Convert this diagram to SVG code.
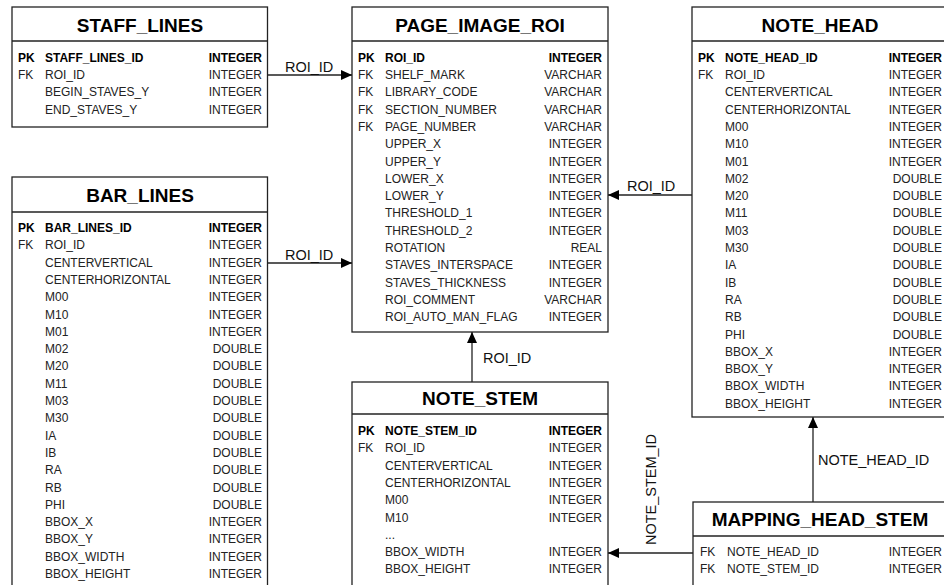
<svg xmlns="http://www.w3.org/2000/svg" width="944" height="585" viewBox="0 0 944 585">
<style>
.box{fill:#fff;stroke:#222;stroke-width:1.3}
.hd{font-family:"Liberation Sans",Arial,sans-serif;font-size:19px;font-weight:bold;fill:#000;text-anchor:middle}
.t{font-family:"Liberation Sans",Arial,sans-serif;font-size:12px;fill:#222}
.b{font-weight:bold;fill:#000}
.r{text-anchor:end}
.lbl{font-family:"Liberation Sans",Arial,sans-serif;font-size:14.5px;fill:#111}
.cn{stroke:#222;stroke-width:1.3;fill:none;marker-end:url(#ah)}
</style>
<defs>
<marker id="ah" markerUnits="userSpaceOnUse" markerWidth="11" markerHeight="10" refX="11" refY="5" orient="auto">
<path d="M0,0 L11,5 L0,10 z" fill="#000"/>
</marker>
</defs>
<rect width="944" height="585" fill="#fff"/>

<g id="staff_lines">
<rect class="box" x="12" y="7" width="255.5" height="120"/>
<line class="box" x1="12" y1="41" x2="267.5" y2="41"/>
<text class="hd" x="140" y="31.5">STAFF_LINES</text>
<text class="t b" x="18" y="61.7">PK</text><text class="t b" x="45" y="61.7">STAFF_LINES_ID</text><text class="t b r" x="262" y="61.7">INTEGER</text>
<text class="t" x="18" y="79">FK</text><text class="t" x="45" y="79">ROI_ID</text><text class="t r" x="262" y="79">INTEGER</text>
<text class="t" x="45" y="96.3">BEGIN_STAVES_Y</text><text class="t r" x="262" y="96.3">INTEGER</text>
<text class="t" x="45" y="113.6">END_STAVES_Y</text><text class="t r" x="262" y="113.6">INTEGER</text>
</g>

<g id="page_image_roi">
<rect class="box" x="352" y="7" width="256" height="325"/>
<line class="box" x1="352" y1="41" x2="608" y2="41"/>
<text class="hd" x="480" y="31.5">PAGE_IMAGE_ROI</text>
<text class="t b" x="358" y="61.7">PK</text><text class="t b" x="385" y="61.7">ROI_ID</text><text class="t b r" x="602" y="61.7">INTEGER</text>
<text class="t" x="358" y="79">FK</text><text class="t" x="385" y="79">SHELF_MARK</text><text class="t r" x="602" y="79">VARCHAR</text>
<text class="t" x="358" y="96.3">FK</text><text class="t" x="385" y="96.3">LIBRARY_CODE</text><text class="t r" x="602" y="96.3">VARCHAR</text>
<text class="t" x="358" y="113.6">FK</text><text class="t" x="385" y="113.6">SECTION_NUMBER</text><text class="t r" x="602" y="113.6">VARCHAR</text>
<text class="t" x="358" y="130.9">FK</text><text class="t" x="385" y="130.9">PAGE_NUMBER</text><text class="t r" x="602" y="130.9">VARCHAR</text>
<text class="t" x="385" y="148.2">UPPER_X</text><text class="t r" x="602" y="148.2">INTEGER</text>
<text class="t" x="385" y="165.5">UPPER_Y</text><text class="t r" x="602" y="165.5">INTEGER</text>
<text class="t" x="385" y="182.8">LOWER_X</text><text class="t r" x="602" y="182.8">INTEGER</text>
<text class="t" x="385" y="200.1">LOWER_Y</text><text class="t r" x="602" y="200.1">INTEGER</text>
<text class="t" x="385" y="217.4">THRESHOLD_1</text><text class="t r" x="602" y="217.4">INTEGER</text>
<text class="t" x="385" y="234.7">THRESHOLD_2</text><text class="t r" x="602" y="234.7">INTEGER</text>
<text class="t" x="385" y="252">ROTATION</text><text class="t r" x="602" y="252">REAL</text>
<text class="t" x="385" y="269.3">STAVES_INTERSPACE</text><text class="t r" x="602" y="269.3">INTEGER</text>
<text class="t" x="385" y="286.6">STAVES_THICKNESS</text><text class="t r" x="602" y="286.6">INTEGER</text>
<text class="t" x="385" y="303.9">ROI_COMMENT</text><text class="t r" x="602" y="303.9">VARCHAR</text>
<text class="t" x="385" y="321.2">ROI_AUTO_MAN_FLAG</text><text class="t r" x="602" y="321.2">INTEGER</text>
</g>

<g id="note_head">
<rect class="box" x="692" y="7" width="260" height="410"/>
<line class="box" x1="692" y1="41" x2="952" y2="41"/>
<text class="hd" x="820" y="31.5">NOTE_HEAD</text>
<text class="t b" x="698" y="61.7">PK</text><text class="t b" x="725" y="61.7">NOTE_HEAD_ID</text><text class="t b r" x="942" y="61.7">INTEGER</text>
<text class="t" x="698" y="79">FK</text><text class="t" x="725" y="79">ROI_ID</text><text class="t r" x="942" y="79">INTEGER</text>
<text class="t" x="725" y="96.3">CENTERVERTICAL</text><text class="t r" x="942" y="96.3">INTEGER</text>
<text class="t" x="725" y="113.6">CENTERHORIZONTAL</text><text class="t r" x="942" y="113.6">INTEGER</text>
<text class="t" x="725" y="130.9">M00</text><text class="t r" x="942" y="130.9">INTEGER</text>
<text class="t" x="725" y="148.2">M10</text><text class="t r" x="942" y="148.2">INTEGER</text>
<text class="t" x="725" y="165.5">M01</text><text class="t r" x="942" y="165.5">INTEGER</text>
<text class="t" x="725" y="182.8">M02</text><text class="t r" x="942" y="182.8">DOUBLE</text>
<text class="t" x="725" y="200.1">M20</text><text class="t r" x="942" y="200.1">DOUBLE</text>
<text class="t" x="725" y="217.4">M11</text><text class="t r" x="942" y="217.4">DOUBLE</text>
<text class="t" x="725" y="234.7">M03</text><text class="t r" x="942" y="234.7">DOUBLE</text>
<text class="t" x="725" y="252">M30</text><text class="t r" x="942" y="252">DOUBLE</text>
<text class="t" x="725" y="269.3">IA</text><text class="t r" x="942" y="269.3">DOUBLE</text>
<text class="t" x="725" y="286.6">IB</text><text class="t r" x="942" y="286.6">DOUBLE</text>
<text class="t" x="725" y="303.9">RA</text><text class="t r" x="942" y="303.9">DOUBLE</text>
<text class="t" x="725" y="321.2">RB</text><text class="t r" x="942" y="321.2">DOUBLE</text>
<text class="t" x="725" y="338.5">PHI</text><text class="t r" x="942" y="338.5">DOUBLE</text>
<text class="t" x="725" y="355.8">BBOX_X</text><text class="t r" x="942" y="355.8">INTEGER</text>
<text class="t" x="725" y="373.1">BBOX_Y</text><text class="t r" x="942" y="373.1">INTEGER</text>
<text class="t" x="725" y="390.4">BBOX_WIDTH</text><text class="t r" x="942" y="390.4">INTEGER</text>
<text class="t" x="725" y="407.7">BBOX_HEIGHT</text><text class="t r" x="942" y="407.7">INTEGER</text>
</g>

<g id="bar_lines">
<rect class="box" x="12" y="177" width="255.5" height="420"/>
<line class="box" x1="12" y1="212" x2="267.5" y2="212"/>
<text class="hd" x="140" y="201.5">BAR_LINES</text>
<text class="t b" x="18" y="232">PK</text><text class="t b" x="45" y="232">BAR_LINES_ID</text><text class="t b r" x="262" y="232">INTEGER</text>
<text class="t" x="18" y="249.3">FK</text><text class="t" x="45" y="249.3">ROI_ID</text><text class="t r" x="262" y="249.3">INTEGER</text>
<text class="t" x="45" y="266.6">CENTERVERTICAL</text><text class="t r" x="262" y="266.6">INTEGER</text>
<text class="t" x="45" y="283.9">CENTERHORIZONTAL</text><text class="t r" x="262" y="283.9">INTEGER</text>
<text class="t" x="45" y="301.2">M00</text><text class="t r" x="262" y="301.2">INTEGER</text>
<text class="t" x="45" y="318.5">M10</text><text class="t r" x="262" y="318.5">INTEGER</text>
<text class="t" x="45" y="335.8">M01</text><text class="t r" x="262" y="335.8">INTEGER</text>
<text class="t" x="45" y="353.1">M02</text><text class="t r" x="262" y="353.1">DOUBLE</text>
<text class="t" x="45" y="370.4">M20</text><text class="t r" x="262" y="370.4">DOUBLE</text>
<text class="t" x="45" y="387.7">M11</text><text class="t r" x="262" y="387.7">DOUBLE</text>
<text class="t" x="45" y="405">M03</text><text class="t r" x="262" y="405">DOUBLE</text>
<text class="t" x="45" y="422.3">M30</text><text class="t r" x="262" y="422.3">DOUBLE</text>
<text class="t" x="45" y="439.6">IA</text><text class="t r" x="262" y="439.6">DOUBLE</text>
<text class="t" x="45" y="456.9">IB</text><text class="t r" x="262" y="456.9">DOUBLE</text>
<text class="t" x="45" y="474.2">RA</text><text class="t r" x="262" y="474.2">DOUBLE</text>
<text class="t" x="45" y="491.5">RB</text><text class="t r" x="262" y="491.5">DOUBLE</text>
<text class="t" x="45" y="508.8">PHI</text><text class="t r" x="262" y="508.8">DOUBLE</text>
<text class="t" x="45" y="526.1">BBOX_X</text><text class="t r" x="262" y="526.1">INTEGER</text>
<text class="t" x="45" y="543.4">BBOX_Y</text><text class="t r" x="262" y="543.4">INTEGER</text>
<text class="t" x="45" y="560.7">BBOX_WIDTH</text><text class="t r" x="262" y="560.7">INTEGER</text>
<text class="t" x="45" y="578">BBOX_HEIGHT</text><text class="t r" x="262" y="578">INTEGER</text>
</g>

<g id="note_stem">
<rect class="box" x="352" y="382" width="256" height="215"/>
<line class="box" x1="352" y1="414" x2="608" y2="414"/>
<text class="hd" x="480" y="405">NOTE_STEM</text>
<text class="t b" x="358" y="435">PK</text><text class="t b" x="385" y="435">NOTE_STEM_ID</text><text class="t b r" x="602" y="435">INTEGER</text>
<text class="t" x="358" y="452.3">FK</text><text class="t" x="385" y="452.3">ROI_ID</text><text class="t r" x="602" y="452.3">INTEGER</text>
<text class="t" x="385" y="469.6">CENTERVERTICAL</text><text class="t r" x="602" y="469.6">INTEGER</text>
<text class="t" x="385" y="486.9">CENTERHORIZONTAL</text><text class="t r" x="602" y="486.9">INTEGER</text>
<text class="t" x="385" y="504.2">M00</text><text class="t r" x="602" y="504.2">INTEGER</text>
<text class="t" x="385" y="521.5">M10</text><text class="t r" x="602" y="521.5">INTEGER</text>
<text class="t" x="385" y="538.8">...</text>
<text class="t" x="385" y="556.1">BBOX_WIDTH</text><text class="t r" x="602" y="556.1">INTEGER</text>
<text class="t" x="385" y="573.4">BBOX_HEIGHT</text><text class="t r" x="602" y="573.4">INTEGER</text>
</g>

<g id="mapping_head_stem">
<rect class="box" x="693" y="502" width="260" height="95"/>
<line class="box" x1="693" y1="536" x2="953" y2="536"/>
<text class="hd" x="820" y="525.5">MAPPING_HEAD_STEM</text>
<text class="t" x="700" y="556">FK</text><text class="t" x="727" y="556">NOTE_HEAD_ID</text><text class="t r" x="942" y="556">INTEGER</text>
<text class="t" x="700" y="573">FK</text><text class="t" x="727" y="573">NOTE_STEM_ID</text><text class="t r" x="942" y="573">INTEGER</text>
</g>

<g id="connectors">
<line class="cn" x1="267.5" y1="75" x2="352" y2="75"/>
<text class="lbl" x="285" y="71.5">ROI_ID</text>
<line class="cn" x1="267.5" y1="263" x2="352" y2="263"/>
<text class="lbl" x="285" y="259.5">ROI_ID</text>
<line class="cn" x1="692" y1="195" x2="608" y2="195"/>
<text class="lbl" x="627" y="191">ROI_ID</text>
<line class="cn" x1="472" y1="382" x2="472" y2="332"/>
<text class="lbl" x="483" y="363">ROI_ID</text>
<line class="cn" x1="813" y1="502" x2="813" y2="417"/>
<text class="lbl" x="818" y="465">NOTE_HEAD_ID</text>
<line class="cn" x1="693" y1="553" x2="608" y2="553"/>
<text class="lbl" transform="translate(656,489.5) rotate(-90)" text-anchor="middle">NOTE_STEM_ID</text>
</g>
</svg>
